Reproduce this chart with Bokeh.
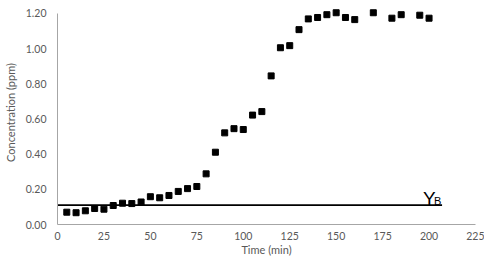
from bokeh.plotting import figure
from bokeh.models import FixedTicker, NumeralTickFormatter, Range1d, Label
from bokeh.embed import file_html
from bokeh.resources import INLINE

time_min = [5, 10, 15, 20, 25, 30, 35, 40, 45, 50, 55, 60, 65, 70, 75, 80, 85, 90, 95, 100,
            105, 110, 115, 120, 125, 130, 135, 140, 145, 150, 155, 160, 170, 180, 185, 195, 200]
conc_ppm = [0.070, 0.067, 0.078, 0.091, 0.087, 0.108, 0.121, 0.119, 0.128, 0.158, 0.152, 0.165,
            0.188, 0.204, 0.216, 0.288, 0.411, 0.521, 0.545, 0.540,
            0.622, 0.642, 0.845, 1.005, 1.017, 1.108, 1.169, 1.177, 1.193, 1.204, 1.177, 1.165,
            1.204, 1.173, 1.193, 1.190, 1.173]
yb_value = 0.11
yb_x = [0, 207]
x_ticks = [0, 25, 50, 75, 100, 125, 150, 175, 200, 225]
y_ticks = [0.0, 0.2, 0.4, 0.6, 0.8, 1.0, 1.2]

FONT = "Lato"
TXT = "#595959"
AX = "#a6a6a6"

p = figure(width=484, height=258, output_backend="svg", toolbar_location=None,
           x_range=Range1d(0, 225), y_range=Range1d(0, 1.2736),
           min_border_left=55, min_border_right=9, min_border_top=0, min_border_bottom=33)
p.outline_line_color = None
p.xgrid.visible = False
p.ygrid.visible = False

p.line(yb_x, [yb_value, yb_value], line_color="black", line_width=1.6)
p.scatter(time_min, conc_ppm, marker="square", size=6, fill_color="black", line_color="black")

p.add_layout(Label(x=196.8, y=0.148, text="Y", text_font="Liberation Sans", text_font_size="19px",
                   text_color="black", text_baseline="alphabetic"))
p.add_layout(Label(x=202.6, y=0.136, text="B", text_font="Liberation Sans", text_font_size="11px",
                   text_color="black", text_baseline="alphabetic"))

for ax in (p.xaxis[0], p.yaxis[0]):
    ax.major_tick_in = 0
    ax.major_tick_out = 0
    ax.minor_tick_in = 0
    ax.minor_tick_out = 0
    ax.axis_line_color = AX
    ax.axis_line_width = 1
    ax.major_label_text_font = FONT
    ax.major_label_text_font_size = "10.5px"
    ax.major_label_text_color = TXT
    ax.axis_label_text_font = FONT
    ax.axis_label_text_font_size = "11px"
    ax.axis_label_text_font_style = "normal"
    ax.axis_label_text_color = TXT

p.xaxis.ticker = FixedTicker(ticks=x_ticks)
p.yaxis.ticker = FixedTicker(ticks=y_ticks)
p.yaxis.formatter = NumeralTickFormatter(format="0.00")
p.yaxis.bounds = (0, 1.2)
p.xaxis.axis_label = "Time (min)"
p.yaxis.axis_label = "Concentration (ppm)"
p.xaxis.major_label_standoff = 7
p.yaxis.major_label_standoff = 11
p.xaxis.axis_label_standoff = 0
p.yaxis.axis_label_standoff = 6

open("out.html", "w").write(file_html(p, INLINE))
